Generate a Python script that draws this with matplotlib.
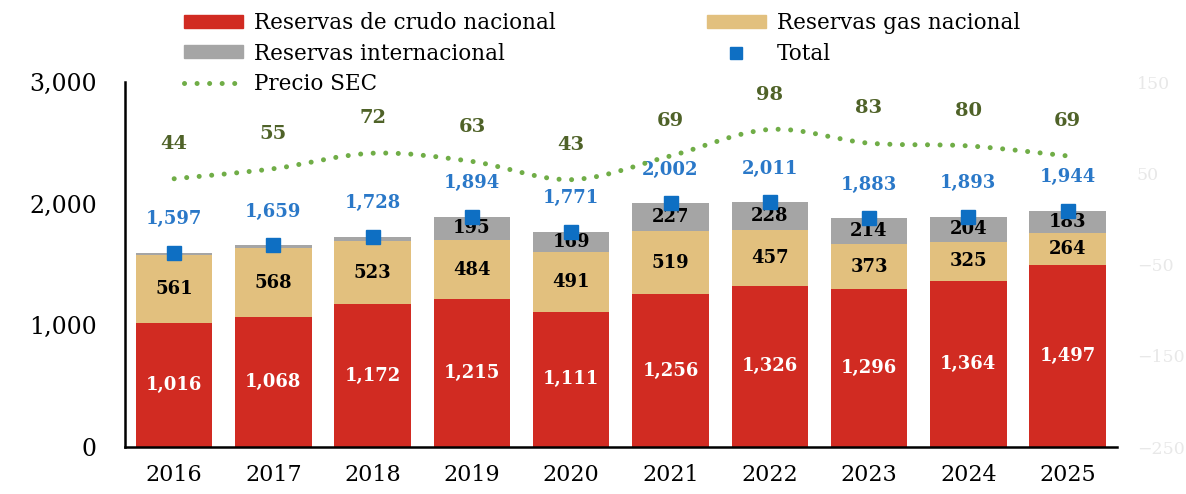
import matplotlib
matplotlib.use("Agg")
import matplotlib.pyplot as plt
from matplotlib.path import Path
from matplotlib.patches import PathPatch, Patch
from matplotlib.lines import Line2D
import numpy as np

years = ["2016", "2017", "2018", "2019", "2020", "2021", "2022", "2023", "2024", "2025"]
crudo = [1016, 1068, 1172, 1215, 1111, 1256, 1326, 1296, 1364, 1497]
gas = [561, 568, 523, 484, 491, 519, 457, 373, 325, 264]
internacional = [20, 23, 33, 195, 169, 227, 228, 214, 204, 183]
total = [1597, 1659, 1728, 1894, 1771, 2002, 2011, 1883, 1893, 1944]
precio = [44, 55, 72, 63, 43, 69, 98, 83, 80, 69]

c_red = "#D12B22"
c_tan = "#E2C07E"
c_gray = "#A5A5A5"
c_blue = "#0E6FC3"
c_blue_txt = "#2A78C8"
c_green = "#70AD47"
c_green_txt = "#4F6228"

plt.rcParams['font.family'] = ['DejaVu Serif']

fig = plt.figure(figsize=(11.86, 4.94), dpi=100)
ax = fig.add_axes([0.105, 0.095, 0.837, 0.739])
x = np.arange(len(years))
w = 0.77

ax.bar(x, crudo, w, color=c_red, zorder=2)
ax.bar(x, gas, w, bottom=crudo, color=c_tan, zorder=2)
bot2 = np.array(crudo) + np.array(gas)
ax.bar(x, internacional, w, bottom=bot2, color=c_gray, zorder=2)

for i in range(len(x)):
    ax.text(x[i], crudo[i] / 2, f"{crudo[i]:,}", ha='center', va='center',
            color='white', fontsize=13, fontweight='bold', zorder=5)
    ax.text(x[i], crudo[i] + gas[i] / 2, f"{gas[i]:,}", ha='center', va='center',
            color='black', fontsize=13, fontweight='bold', zorder=5)
    if internacional[i] > 100:
        ax.text(x[i], bot2[i] + internacional[i] / 2, f"{internacional[i]:,}", ha='center',
                va='center', color='black', fontsize=13, fontweight='bold', zorder=5)

ax.plot(x, total, linestyle='none', marker='s', markersize=10, color=c_blue, zorder=6)
for i in range(len(x)):
    ax.annotate(f"{total[i]:,}", (x[i], total[i]), xytext=(0, 24), textcoords='offset points',
                ha='center', va='center', color=c_blue_txt, fontsize=13, fontweight='bold')

ax.set_xlim(-0.5, 9.5)
ax.set_ylim(0, 3000)
ax.set_yticks([0, 1000, 2000, 3000])
ax.set_yticklabels(["0", "1,000", "2,000", "3,000"])
ax.set_xticks(x)
ax.set_xticklabels(years)
ax.tick_params(axis='y', length=0, pad=20, labelsize=17)
ax.tick_params(axis='x', length=0, pad=12, labelsize=16)
for s in ['top', 'right']:
    ax.spines[s].set_visible(False)
ax.spines['left'].set_linewidth(1.8)
ax.spines['bottom'].set_linewidth(1.8)

# secondary axis for SEC price, smoothed line
ax2 = ax.twinx()
ax2.set_ylim(-250, 150)
ax2.set_yticks([-250, -150, -50, 50, 150])
ax2.tick_params(axis='y', length=0, pad=14, labelsize=12.5, labelcolor='#E8E8E8')
for s in ax2.spines.values():
    s.set_visible(False)

pts = np.column_stack([x, precio]).astype(float)
n = len(pts)
verts = [tuple(pts[0])]
codes = [Path.MOVETO]
for i in range(n - 1):
    p0 = pts[max(i - 1, 0)]
    p1 = pts[i]
    p2 = pts[i + 1]
    p3 = pts[min(i + 2, n - 1)]
    c1 = p1 + (p2 - p0) / 6
    c2 = p2 - (p3 - p1) / 6
    verts += [tuple(c1), tuple(c2), tuple(p2)]
    codes += [Path.CURVE4] * 3
dot_style = (0, (0.01, 2.5))
patch = PathPatch(Path(verts, codes), facecolor='none', edgecolor=c_green, lw=3.6,
                  linestyle=dot_style, capstyle='round', zorder=4)
ax2.add_patch(patch)
for i in range(n):
    ax2.annotate(str(precio[i]), (x[i], precio[i]), xytext=(0, 25), textcoords='offset points',
                 ha='center', va='center', color=c_green_txt, fontsize=14, fontweight='bold')

handles = [
    Patch(color=c_red, label="Reservas de crudo nacional"),
    Patch(color=c_gray, label="Reservas internacional"),
    Line2D([], [], color=c_green, lw=3.6, linestyle=dot_style, dash_capstyle='round',
           label="Precio SEC"),
    Patch(color=c_tan, label="Reservas gas nacional"),
    Line2D([], [], color=c_blue, marker='s', markersize=9, linestyle='none', label="Total"),
]
fig.legend(handles=handles, loc='upper left', bbox_to_anchor=(0.139, 1.015), ncol=2,
           frameon=False, fontsize=15.5, handlelength=2.75, handleheight=0.55,
           labelspacing=0.4, columnspacing=7.0, handletextpad=0.5)

plt.savefig("out.png", dpi=100)
